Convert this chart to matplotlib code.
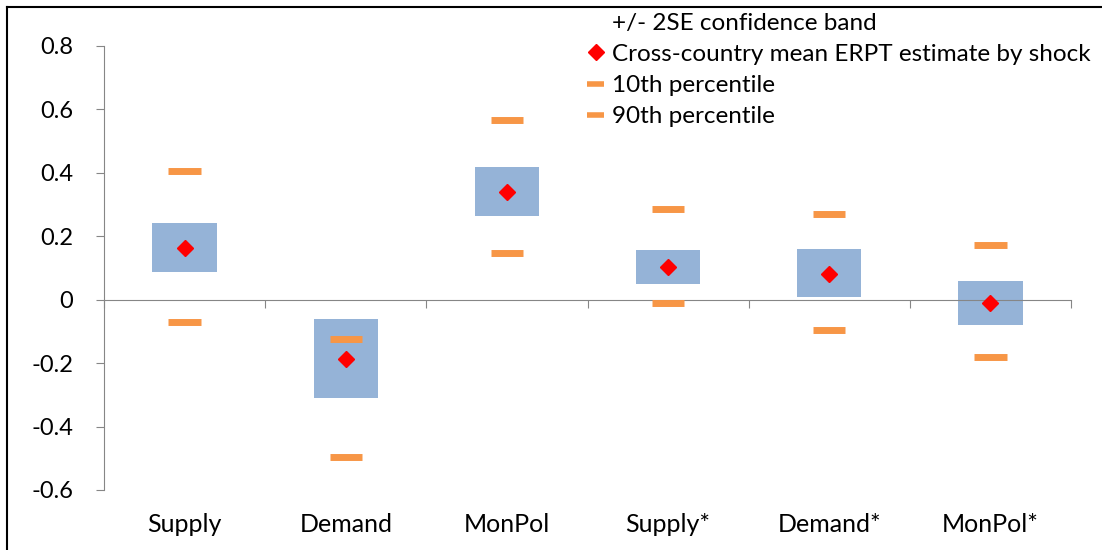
import matplotlib.pyplot as plt
from matplotlib.lines import Line2D
from matplotlib.patches import Patch
import numpy as np

plt.rcParams["font.family"] = ["Lato", "DejaVu Sans"]

# data
shocks = ["Supply", "Demand", "MonPol", "Supply*", "Demand*", "MonPol*"]
band_low = [0.086, -0.310, 0.263, 0.050, 0.008, -0.081]
band_high = [0.241, -0.062, 0.418, 0.158, 0.160, 0.059]
mean_erpt = [0.164, -0.187, 0.339, 0.103, 0.080, -0.011]
pct10 = [-0.071, -0.497, 0.147, -0.011, -0.097, -0.182]
pct90 = [0.405, -0.125, 0.567, 0.285, 0.269, 0.172]

BLUE = "#95B3D7"
ORANGE = "#F79646"
GREY = "#868686"

fig = plt.figure(figsize=(11.02, 5.5), dpi=100)
ax = fig.add_axes([104 / 1102, 1 - 490 / 550, (1071 - 104) / 1102, (490 - 46) / 550])

x = np.arange(len(shocks))
heights = np.array(band_high) - np.array(band_low)
ax.bar(x, heights, bottom=band_low, width=0.4, color=BLUE, zorder=2)
ax.hlines(pct10, x - 0.1, x + 0.1, colors=ORANGE, linewidth=5, zorder=3)
ax.hlines(pct90, x - 0.1, x + 0.1, colors=ORANGE, linewidth=5, zorder=3)
ax.plot(x, mean_erpt, linestyle="none", marker="D", markersize=8.5, color="red", zorder=4)

ax.set_xlim(-0.5, len(shocks) - 0.5)
ax.set_ylim(-0.6, 0.8)
ax.set_yticks(np.arange(-0.6, 0.81, 0.2))
ax.set_yticklabels(["-0.6", "-0.4", "-0.2", "0", "0.2", "0.4", "0.6", "0.8"])
ax.tick_params(axis="y", length=6, color=GREY, labelsize=17, pad=16)

# x axis sits at zero with ticks at category boundaries
for side in ["top", "right"]:
    ax.spines[side].set_visible(False)
ax.spines["left"].set_color(GREY)
ax.spines["bottom"].set_position(("data", 0))
ax.spines["bottom"].set_color(GREY)
ax.set_xticks(np.arange(-0.5, len(shocks), 1.0))
ax.set_xticklabels([])
ax.tick_params(axis="x", direction="out", length=6, color=GREY)

for xi, name in zip(x, shocks):
    ax.text(xi, -0.078, name, transform=ax.get_xaxis_transform(), ha="center",
            va="center", fontsize=18)

handles = [
    Patch(facecolor="none", edgecolor="none"),
    Line2D([], [], linestyle="none", marker="D", markersize=8.5, color="red"),
    Line2D([], [], color=ORANGE, linewidth=4, solid_capstyle="butt"),
    Line2D([], [], color=ORANGE, linewidth=4, solid_capstyle="butt"),
]
labels = ["+/- 2SE confidence band", "Cross-country mean ERPT estimate by shock",
          "10th percentile", "90th percentile"]
fig.legend(handles, labels, loc="upper right", bbox_to_anchor=(1100 / 1102, 1 - 3 / 550),
           frameon=False, fontsize=17.5, handlelength=0.7, handletextpad=0.3,
           labelspacing=0.42, borderaxespad=0)

# outer chart border
fig.add_artist(Line2D([7 / 1102, 1], [1 - 7 / 550, 1 - 7 / 550], color="black", lw=1.5))
fig.add_artist(Line2D([7 / 1102, 7 / 1102], [0, 1 - 7 / 550], color="black", lw=1.5))

fig.savefig("out.png", dpi=100)
